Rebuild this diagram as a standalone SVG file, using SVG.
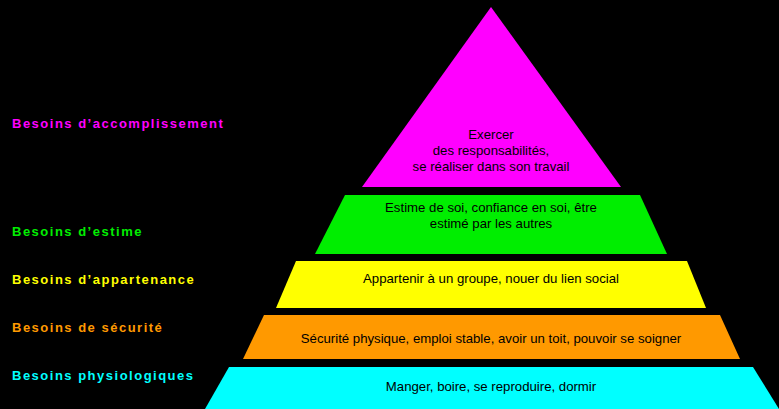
<svg xmlns="http://www.w3.org/2000/svg" width="779" height="409" viewBox="0 0 779 409">
<style>
.l{font-family:"Liberation Sans",Arial,sans-serif;font-size:13px;font-weight:bold;letter-spacing:1.5px}
.t{font-family:"Liberation Sans",Arial,sans-serif;font-size:13.2px;fill:#000;text-anchor:middle}
</style>
<rect width="779" height="409" fill="#000"/>
<g id="n1"><polygon points="491,7 621,187 362,187" fill="#ff00ff"/>
<text class="t" x="491" y="139">Exercer</text><text class="t" x="491" y="155">des responsabilités,</text><text class="t" x="491" y="171">se réaliser dans son travail</text></g>
<g id="n2"><polygon points="345,195 640,195 667,254 315,254" fill="#00ee00"/>
<text class="t" x="491" y="212">Estime de soi, confiance en soi, être</text><text class="t" x="491" y="228">estimé par les autres</text></g>
<g id="n3"><polygon points="296,261 687,261 706,308 276,308" fill="#ffff00"/>
<text class="t" x="491" y="283">Appartenir à un groupe, nouer du lien social</text></g>
<g id="n4"><polygon points="264,315 720,315 740,359 243,359" fill="#ff9900"/>
<text class="t" x="491" y="343">Sécurité physique, emploi stable, avoir un toit, pouvoir se soigner</text></g>
<g id="n5"><polygon points="229,367 753,367 779,409 205,409" fill="#00ffff"/>
<text class="t" x="491" y="391">Manger, boire, se reproduire, dormir</text></g>
<g id="labels">
<text class="l" x="12" y="128" fill="#ff00ff">Besoins d’accomplissement</text>
<text class="l" x="12" y="236" fill="#00ee00">Besoins d’estime</text>
<text class="l" x="12" y="284" fill="#ffff00">Besoins d’appartenance</text>
<text class="l" x="12" y="332" fill="#ff9900">Besoins de sécurité</text>
<text class="l" x="12" y="380" fill="#00ffff">Besoins physiologiques</text>
</g>
<g id="connectors"/>
</svg>
